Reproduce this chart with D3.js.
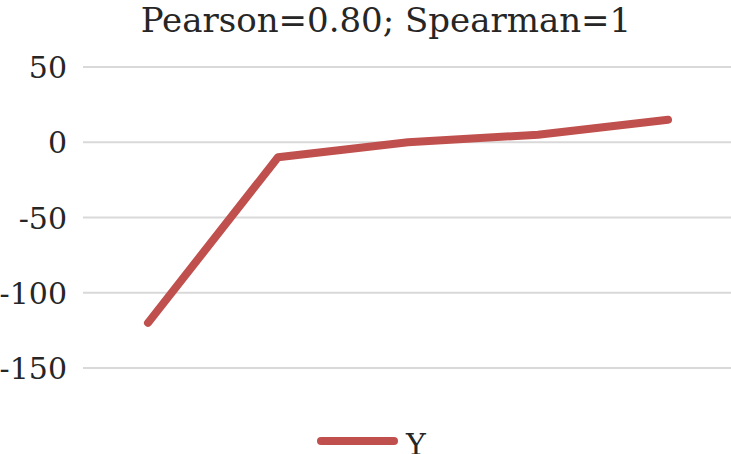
<!DOCTYPE html>
<html>
<head>
<meta charset="utf-8">
<script src="https://cdn.jsdelivr.net/npm/d3@7"></script>
<style>
  body { margin: 0; background: #fff; }
  text { font-family: "DejaVu Serif", "Liberation Serif", serif; fill: #262626; }
</style>
</head>
<body>
<svg width="731" height="454"></svg>
<script>
const categories = ['1', '2', '3', '4', '5'];
const yValues = [-120, -10, 0, 5, 15];
const yTicks = [50, 0, -50, -100, -150];
const title = 'Pearson=0.80; Spearman=1';
const seriesName = 'Y';

const svg = d3.select('svg'),
    width = +svg.attr('width'),
    height = +svg.attr('height');

const x = d3.scaleBand()
    .domain(categories)
    .range([83, 733]);

const y = d3.scaleLinear()
    .domain([-150, 50])
    .range([368, 67]);

// gridlines
svg.append('g')
  .selectAll('line')
  .data(yTicks)
  .enter().append('line')
    .attr('x1', 83)
    .attr('x2', width)
    .attr('y1', d => y(d))
    .attr('y2', d => y(d))
    .attr('stroke', '#d9d9d9')
    .attr('stroke-width', 2);

// y axis labels
svg.append('g')
  .selectAll('text')
  .data(yTicks)
  .enter().append('text')
    .attr('x', 67)
    .attr('y', d => y(d))
    .attr('dy', '0.37em')
    .attr('text-anchor', 'end')
    .style('font-size', '30px')
    .text(d => d);

// title
svg.append('text')
    .attr('x', 386)
    .attr('y', 32)
    .attr('text-anchor', 'middle')
    .style('font-size', '34px')
    .text(title);

const line = d3.line()
    .x((d, i) => x(categories[i]) + x.bandwidth() / 2)
    .y(d => y(d));

svg.append('path')
    .datum(yValues)
    .attr('d', line)
    .attr('fill', 'none')
    .attr('stroke', '#c0504d')
    .attr('stroke-width', 8)
    .attr('stroke-linecap', 'round')
    .attr('stroke-linejoin', 'round');

// legend
svg.append('line')
    .attr('x1', 321).attr('x2', 394)
    .attr('y1', 441).attr('y2', 441)
    .attr('stroke', '#c0504d')
    .attr('stroke-width', 8)
    .attr('stroke-linecap', 'round');

svg.append('text')
    .attr('x', 406)
    .attr('y', 455)
    .style('font-size', '30px')
    .text(seriesName);
</script>
</body>
</html>
